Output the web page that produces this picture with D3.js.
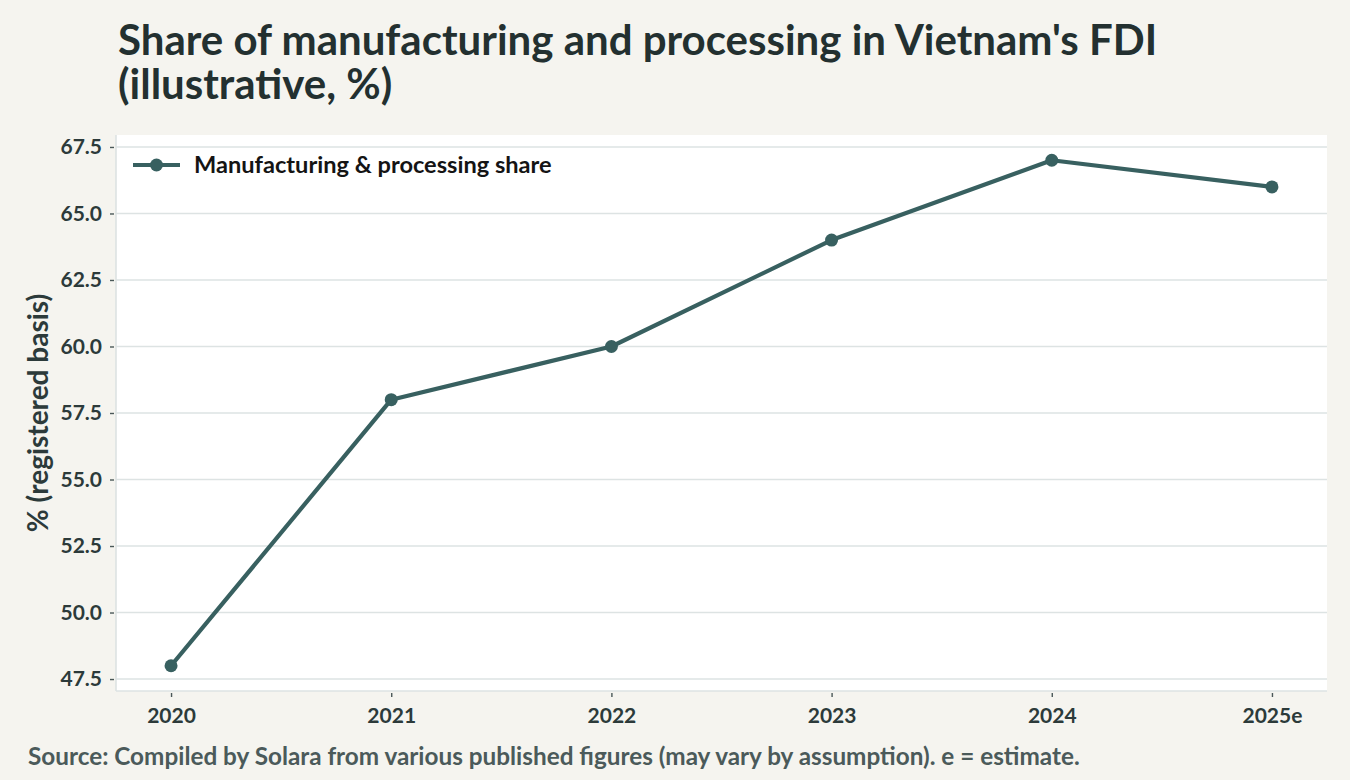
<!DOCTYPE html>
<html>
<head>
<meta charset="utf-8">
<script src="https://cdn.jsdelivr.net/npm/d3@7"></script>
<style>
  body { margin: 0; background: #f5f4ef; }
  svg text { font-family: "Lato", "Noto Sans", sans-serif; font-weight: 700; }
</style>
</head>
<body>
<svg id="chart" width="1350" height="780"></svg>
<script>
// data
var years = ["2020", "2021", "2022", "2023", "2024", "2025e"];
var shareValues = [48, 58, 60, 64, 67, 66];
var yTicks = [47.5, 50.0, 52.5, 55.0, 57.5, 60.0, 62.5, 65.0, 67.5];
var titleLines = ["Share of manufacturing and processing in Vietnam's FDI", "(illustrative, %)"];

var margin = {top: 135, right: 23, bottom: 89, left: 116};
var width = 1350, height = 780;
var lineColor = "#386060";

var svg = d3.select("#chart");
svg.append("rect").attr("width", width).attr("height", height).attr("fill", "#f5f4ef");

var x = d3.scaleLinear()
  .domain([-0.25, years.length - 1 + 0.25])
  .range([margin.left, width - margin.right]);

var yMin = d3.min(shareValues), yMax = d3.max(shareValues), pad = (yMax - yMin) * 0.05;
var y = d3.scaleLinear()
  .domain([yMin - pad, yMax + pad])
  .range([height - margin.bottom, margin.top]);

// plot background
svg.append("rect")
  .attr("x", margin.left).attr("y", margin.top)
  .attr("width", width - margin.left - margin.right)
  .attr("height", height - margin.top - margin.bottom)
  .attr("fill", "#ffffff");

// gridlines
svg.append("g").selectAll("line")
  .data(yTicks).enter().append("line")
  .attr("x1", margin.left).attr("x2", width - margin.right)
  .attr("y1", function(d) { return y(d); })
  .attr("y2", function(d) { return y(d); })
  .attr("stroke", "#dde3e3").attr("stroke-width", 1.6);

// spines (left and bottom)
svg.append("line")
  .attr("x1", margin.left).attr("x2", margin.left)
  .attr("y1", margin.top).attr("y2", height - margin.bottom)
  .attr("stroke", "#dde3e3").attr("stroke-width", 1.6);
svg.append("line")
  .attr("x1", margin.left).attr("x2", width - margin.right)
  .attr("y1", height - margin.bottom).attr("y2", height - margin.bottom)
  .attr("stroke", "#dde3e3").attr("stroke-width", 1.6);

// axes
var yAxis = svg.append("g")
  .attr("transform", "translate(" + (margin.left - 2) + ",0)")
  .call(d3.axisLeft(y).tickValues(yTicks).tickFormat(d3.format(".1f")).tickSize(4).tickPadding(8));
var xAxis = svg.append("g")
  .attr("transform", "translate(0," + (height - margin.bottom + 2) + ")")
  .call(d3.axisBottom(x).tickValues(d3.range(years.length)).tickFormat(function(i) { return years[i]; }).tickSize(4).tickPadding(11));

[yAxis, xAxis].forEach(function(a) {
  a.select(".domain").remove();
  a.selectAll(".tick line").attr("stroke", "#4a5858").attr("stroke-width", 1.4);
  a.selectAll(".tick text").attr("fill", "#2c3a3a").style("font-size", "21px");
});

// line + markers
var line = d3.line()
  .x(function(d, i) { return x(i); })
  .y(function(d) { return y(d); });

svg.append("path")
  .datum(shareValues)
  .attr("d", line)
  .attr("fill", "none")
  .attr("stroke", lineColor)
  .attr("stroke-width", 4.2)
  .attr("stroke-linejoin", "round");

svg.append("g").selectAll("circle")
  .data(shareValues).enter().append("circle")
  .attr("cx", function(d, i) { return x(i); })
  .attr("cy", function(d) { return y(d); })
  .attr("r", 6.5)
  .attr("fill", lineColor);

// legend
var legend = svg.append("g").attr("transform", "translate(133,165)");
legend.append("line").attr("x1", 0).attr("x2", 47).attr("stroke", lineColor).attr("stroke-width", 4.2);
legend.append("circle").attr("cx", 23.5).attr("r", 6.5).attr("fill", lineColor);
legend.append("text").attr("x", 61).attr("dy", "0.35em")
  .attr("fill", "#141414").style("font-size", "23.6px")
  .text("Manufacturing & processing share");

// title, one text per line
svg.append("g").selectAll("text")
  .data(titleLines).enter().append("text")
  .attr("x", 118)
  .attr("y", function(d, i) { return 55 + i * 44; })
  .attr("fill", "#233030").style("font-size", "42px")
  .text(function(d) { return d; });

// y label
svg.append("text")
  .attr("transform", "translate(48," + ((margin.top + height - margin.bottom) / 2) + ") rotate(-90)")
  .attr("text-anchor", "middle")
  .attr("fill", "#2c3a3a").style("font-size", "28px")
  .text("% (registered basis)");

// source
svg.append("text").attr("x", 28).attr("y", 765)
  .attr("fill", "#4b5a5a").style("font-size", "24.3px")
  .text("Source: Compiled by Solara from various published figures (may vary by assumption). e = estimate.");
</script>
</body>
</html>
